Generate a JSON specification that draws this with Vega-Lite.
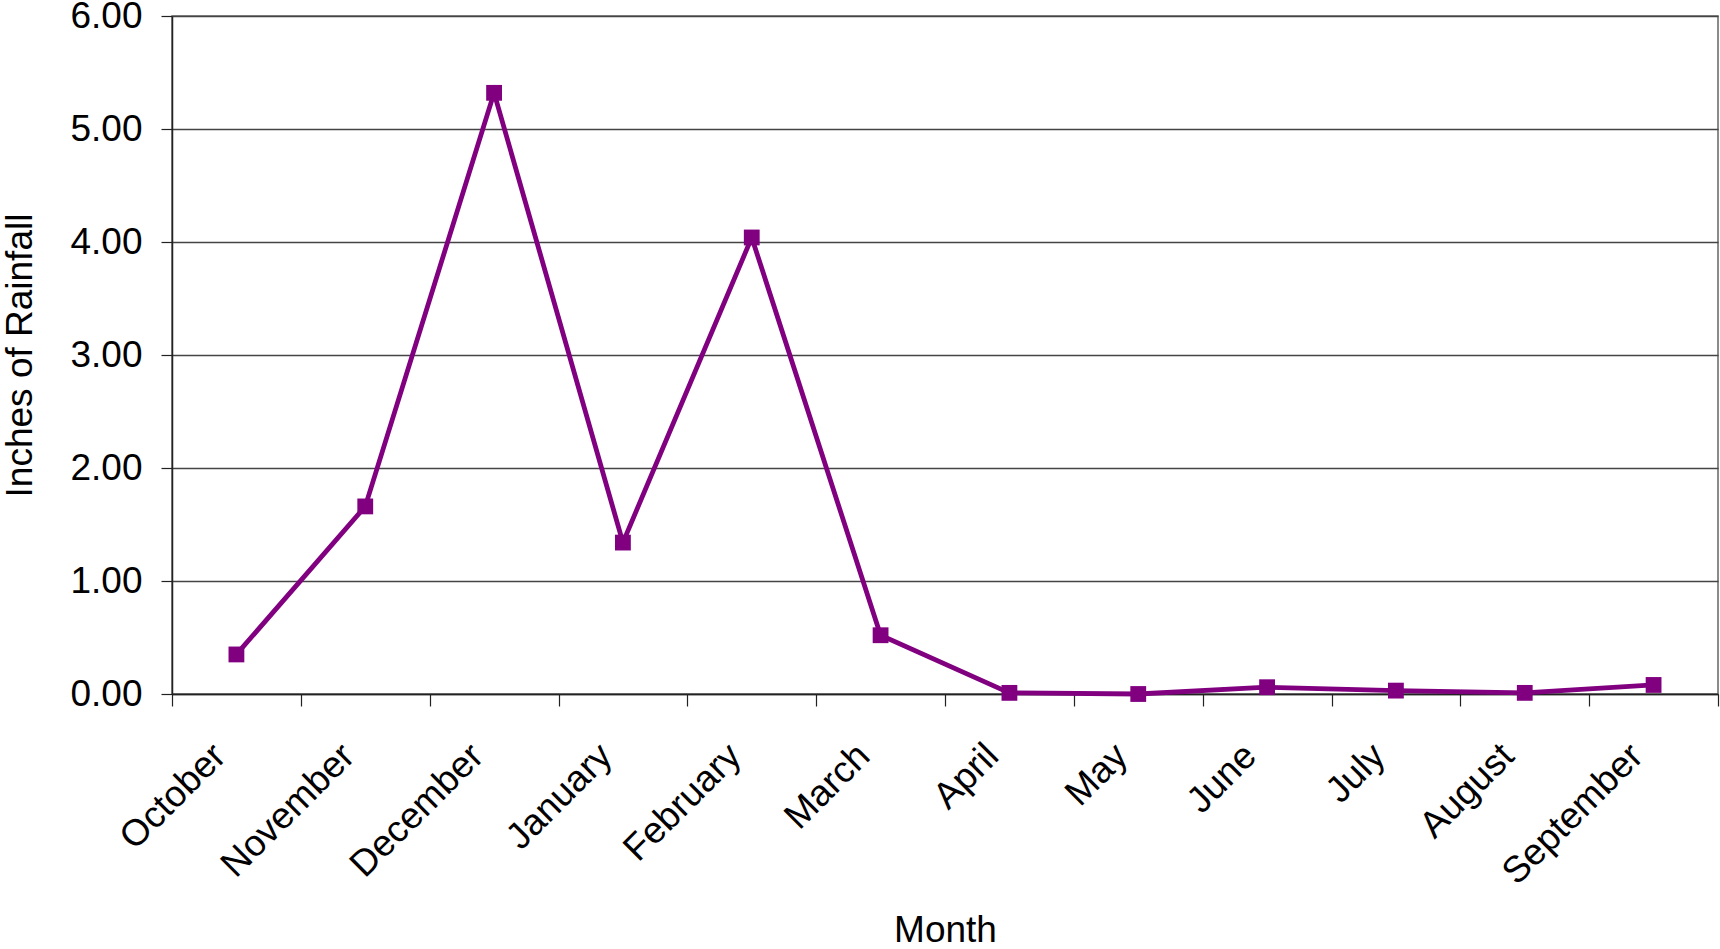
{
  "$schema": "https://vega.github.io/schema/vega-lite/v6.json",
  "width": 1546,
  "height": 678,
  "autosize": {"type": "none"},
  "padding": {"left": 172, "top": 16, "right": 2, "bottom": 255},
  "background": "white",
  "config": {
    "font": "Liberation Sans",
    "view": {"stroke": "#666666", "strokeWidth": 1.5},
    "axis": {
      "labelFont": "Liberation Sans",
      "titleFont": "Liberation Sans",
      "labelColor": "black",
      "titleColor": "black",
      "titleFontWeight": "normal",
      "labelFontSize": 37,
      "titleFontSize": 37,
      "domainColor": "#222222",
      "domainWidth": 1.5,
      "tickColor": "#222222",
      "tickWidth": 1.2,
      "tickSize": 12
    }
  },
  "data": {
    "values": [
      {"month": "October", "rain": 0.35},
      {"month": "November", "rain": 1.66},
      {"month": "December", "rain": 5.32},
      {"month": "January", "rain": 1.34},
      {"month": "February", "rain": 4.04},
      {"month": "March", "rain": 0.52},
      {"month": "April", "rain": 0.01},
      {"month": "May", "rain": 0.0},
      {"month": "June", "rain": 0.06},
      {"month": "July", "rain": 0.03},
      {"month": "August", "rain": 0.01},
      {"month": "September", "rain": 0.08}
    ]
  },
  "encoding": {
    "x": {
      "field": "month",
      "type": "ordinal",
      "sort": null,
      "scale": {"paddingInner": 0, "paddingOuter": 0},
      "axis": {
        "title": "Month",
        "labelAngle": -45,
        "labelAlign": "right",
        "labelBaseline": "middle",
        "labelPadding": 44,
        "labelOffset": -17,
        "labelLimit": 0,
        "tickBand": "extent",
        "titleX": 773,
        "titleY": 247,
        "titleBaseline": "alphabetic",
        "titleAlign": "center"
      }
    },
    "y": {
      "field": "rain",
      "type": "quantitative",
      "scale": {"domain": [0, 6], "nice": false},
      "axis": {
        "title": "Inches of Rainfall",
        "values": [0, 1, 2, 3, 4, 5, 6],
        "format": ".2f",
        "labelPadding": 19,
        "tickSize": 11,
        "grid": true,
        "gridColor": "#444444",
        "gridWidth": 1.3,
        "titleX": -152,
        "titleY": 339,
        "titleAngle": -90,
        "titleBaseline": "middle",
        "titleAlign": "center"
      }
    }
  },
  "layer": [
    {
      "mark": {"type": "line", "color": "#800080", "strokeWidth": 4.8}
    },
    {
      "mark": {"type": "point", "shape": "square", "filled": true, "color": "#800080", "opacity": 1, "size": 250}
    }
  ]
}
